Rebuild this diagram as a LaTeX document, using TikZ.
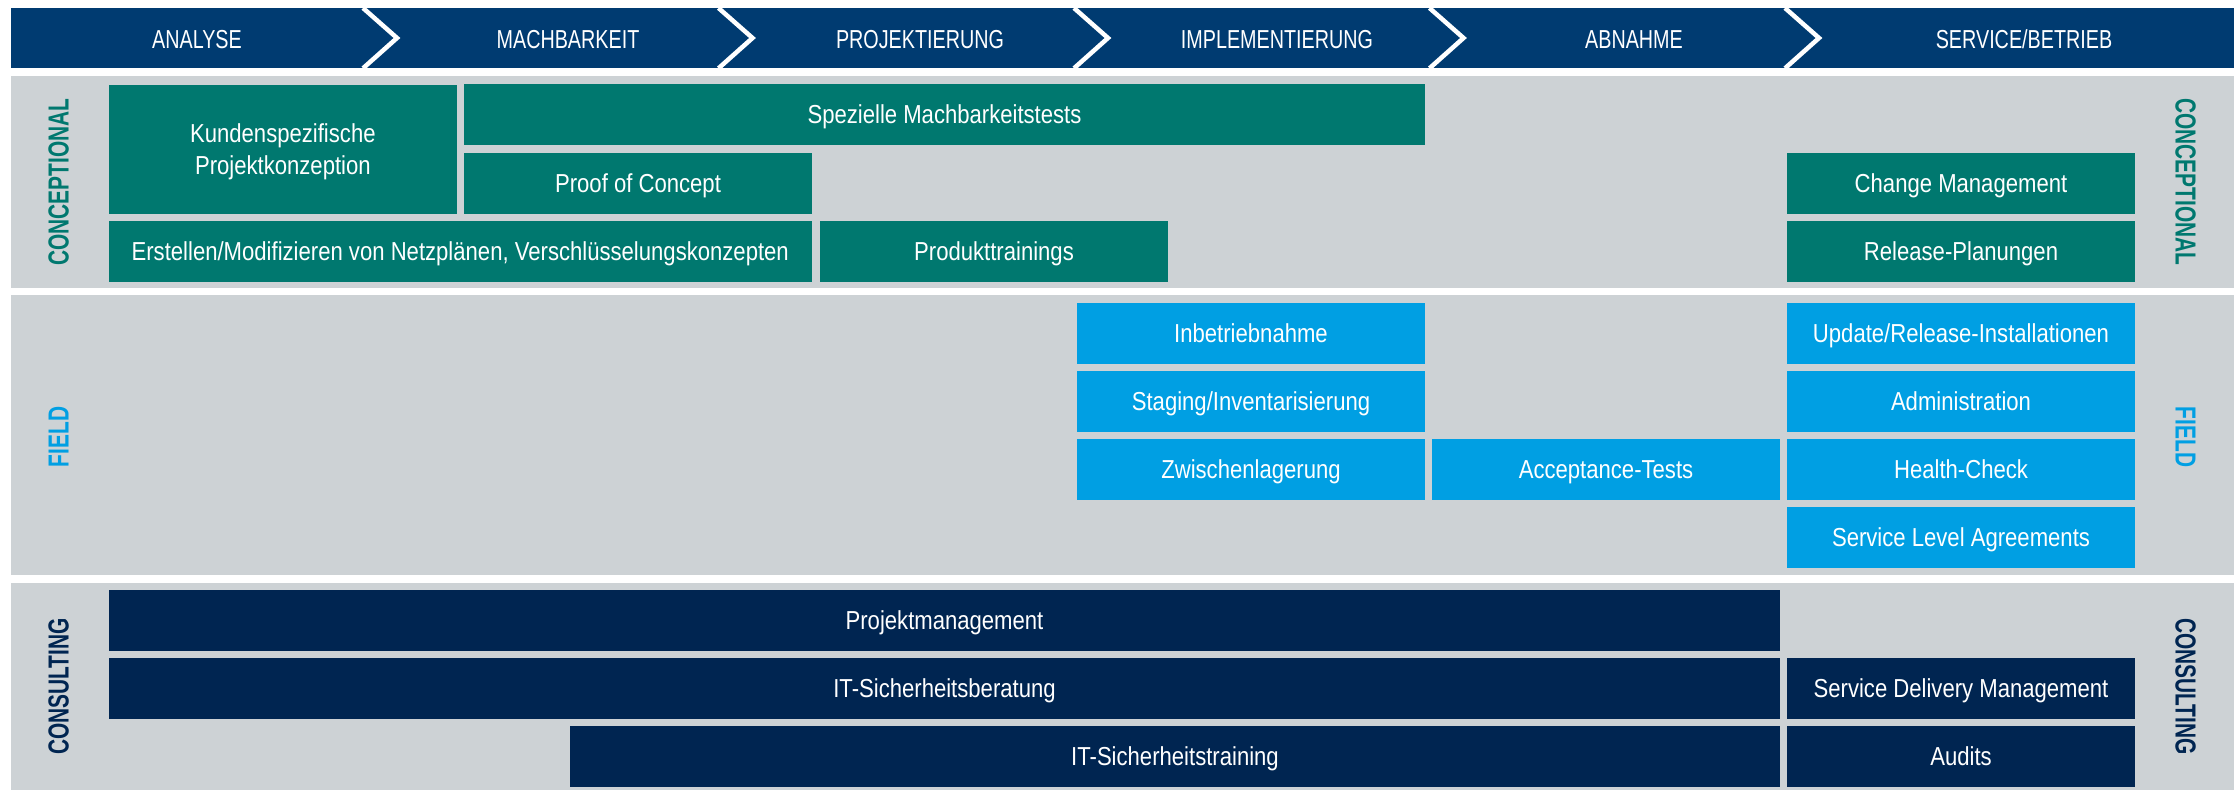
\documentclass[tikz,border=0pt]{standalone}
\usepackage{fontspec}
\setmainfont{Liberation Sans}[FakeStretch=0.85]
\newfontfamily\phasefont{Liberation Sans}[FakeStretch=0.76]
\newfontfamily\lanefont{Liberation Sans}[FakeStretch=0.72]
\definecolor{headblue}{RGB}{0,59,113}
\definecolor{lanegray}{RGB}{205,210,213}
\definecolor{conteal}{RGB}{0,120,111}
\definecolor{fieldblue}{RGB}{0,159,227}
\definecolor{consnavy}{RGB}{0,37,81}
\tikzset{
	task/.style={anchor=north west, inner sep=0pt, outer sep=0pt, minimum width=348, minimum height=60.7, text=white, align=center, text height=18.7pt, text depth=0pt, font=\fontsize{26}{31.5}\selectfont},
	contask/.style={task, fill=conteal},
	fieldtask/.style={task, fill=fieldblue},
	constask/.style={task, fill=consnavy},
	phase/.style={inner sep=0pt, text=white, text height=19pt, text depth=0pt, font=\phasefont\fontsize{26}{30}\selectfont},
	lane/.style={inner sep=0pt, text height=21pt, text depth=0pt, font=\lanefont\bfseries\fontsize{29}{32}\selectfont}
}

\begin{document}
\begin{tikzpicture}[x=1pt, y=-1pt]
		%%%%% START %%%%%
		\useasboundingbox[fill=white] (0,0) rectangle (2239,790);
		
		%%%%% PHASES %%%%%
		\fill[headblue] (10.7, 8) rectangle (2234, 68.3);
		\foreach \k in {0,...,4}
			\draw[white, line width=4.5] ({363+355.5*\k}, 8) -- ({397+355.5*\k}, 38) -- ({363+355.5*\k}, 68.3);
		\node[phase] (analyse) at (197, 38.5) {ANALYSE};
		\node[phase] (machbar) at (568, 38.5) {MACHBARKEIT};
		\node[phase] (projekt) at (920, 38.5) {PROJEKTIERUNG};
		\node[phase] (implement) at (1277, 38.5) {IMPLEMENTIERUNG};
		\node[phase] (abnahme) at (1634, 38.5) {ABNAHME};
		\node[phase] (service) at (2024, 38.5) {SERVICE/BETRIEB};
		
		%%%%% LANES %%%%%
		\fill[lanegray] (10.7, 76) rectangle (2234, 288);
		\fill[lanegray] (10.7, 295) rectangle (2234, 575);
		\fill[lanegray] (10.7, 583) rectangle (2234, 790);
		
		\node[lane, text=conteal, rotate=90] (conleft) at (58, 182) {CONCEPTIONAL};
		\node[lane, text=conteal, rotate=-90] (conright) at (2186, 182) {CONCEPTIONAL};
		\node[lane, text=fieldblue, rotate=90] (fieldleft) at (58, 437) {FIELD};
		\node[lane, text=fieldblue, rotate=-90] (fieldright) at (2186, 437) {FIELD};
		\node[lane, text=consnavy, rotate=90] (consleft) at (58, 686.5) {CONSULTING};
		\node[lane, text=consnavy, rotate=-90] (consright) at (2186, 686.5) {CONSULTING};
		
		%%%%% CONCEPTIONAL %%%%%
		\node[contask, minimum width=347.7, minimum height=128.7, text height=50.2pt] (kunden) at (109, 85) {Kundenspezifische\\Projektkonzeption};
		\node[contask, minimum width=961, minimum height=61] (spezielle) at (464, 84) {Spezielle Machbarkeitstests};
		\node[contask] (proof) at (464, 153) {Proof of Concept};
		\node[contask, minimum width=703.5] (netz) at (108.5, 221) {Erstellen/Modifizieren von Netzplänen, Verschlüsselungskonzepten};
		\node[contask] (produkt) at (820, 221) {Produkttrainings};
		\node[contask] (change) at (1787, 153) {Change Management};
		\node[contask] (release) at (1787, 221) {Release-Planungen};
		
		%%%%% FIELD %%%%%
		\node[fieldtask] (inbetrieb) at (1077, 303) {Inbetriebnahme};
		\node[fieldtask] (staging) at (1077, 371) {Staging/Inventarisierung};
		\node[fieldtask] (zwischen) at (1077, 439) {Zwischenlagerung};
		\node[fieldtask] (accept) at (1432, 439) {Acceptance-Tests};
		\node[fieldtask] (update) at (1787, 303) {Update/Release-Installationen};
		\node[fieldtask] (admin) at (1787, 371) {Administration};
		\node[fieldtask] (health) at (1787, 439) {Health-Check};
		\node[fieldtask] (sla) at (1787, 507) {Service Level Agreements};
		
		%%%%% CONSULTING %%%%%
		\node[constask, minimum width=1671] (pm) at (109, 590) {Projektmanagement};
		\node[constask, minimum width=1671] (beratung) at (109, 658) {IT-Sicherheitsberatung};
		\node[constask] (sdm) at (1787, 658) {Service Delivery Management};
		\node[constask, minimum width=1210] (training) at (570, 726) {IT-Sicherheitstraining};
		\node[constask] (audits) at (1787, 726) {Audits};
		%%%%% END %%%%%
	\end{tikzpicture}
\end{document}
